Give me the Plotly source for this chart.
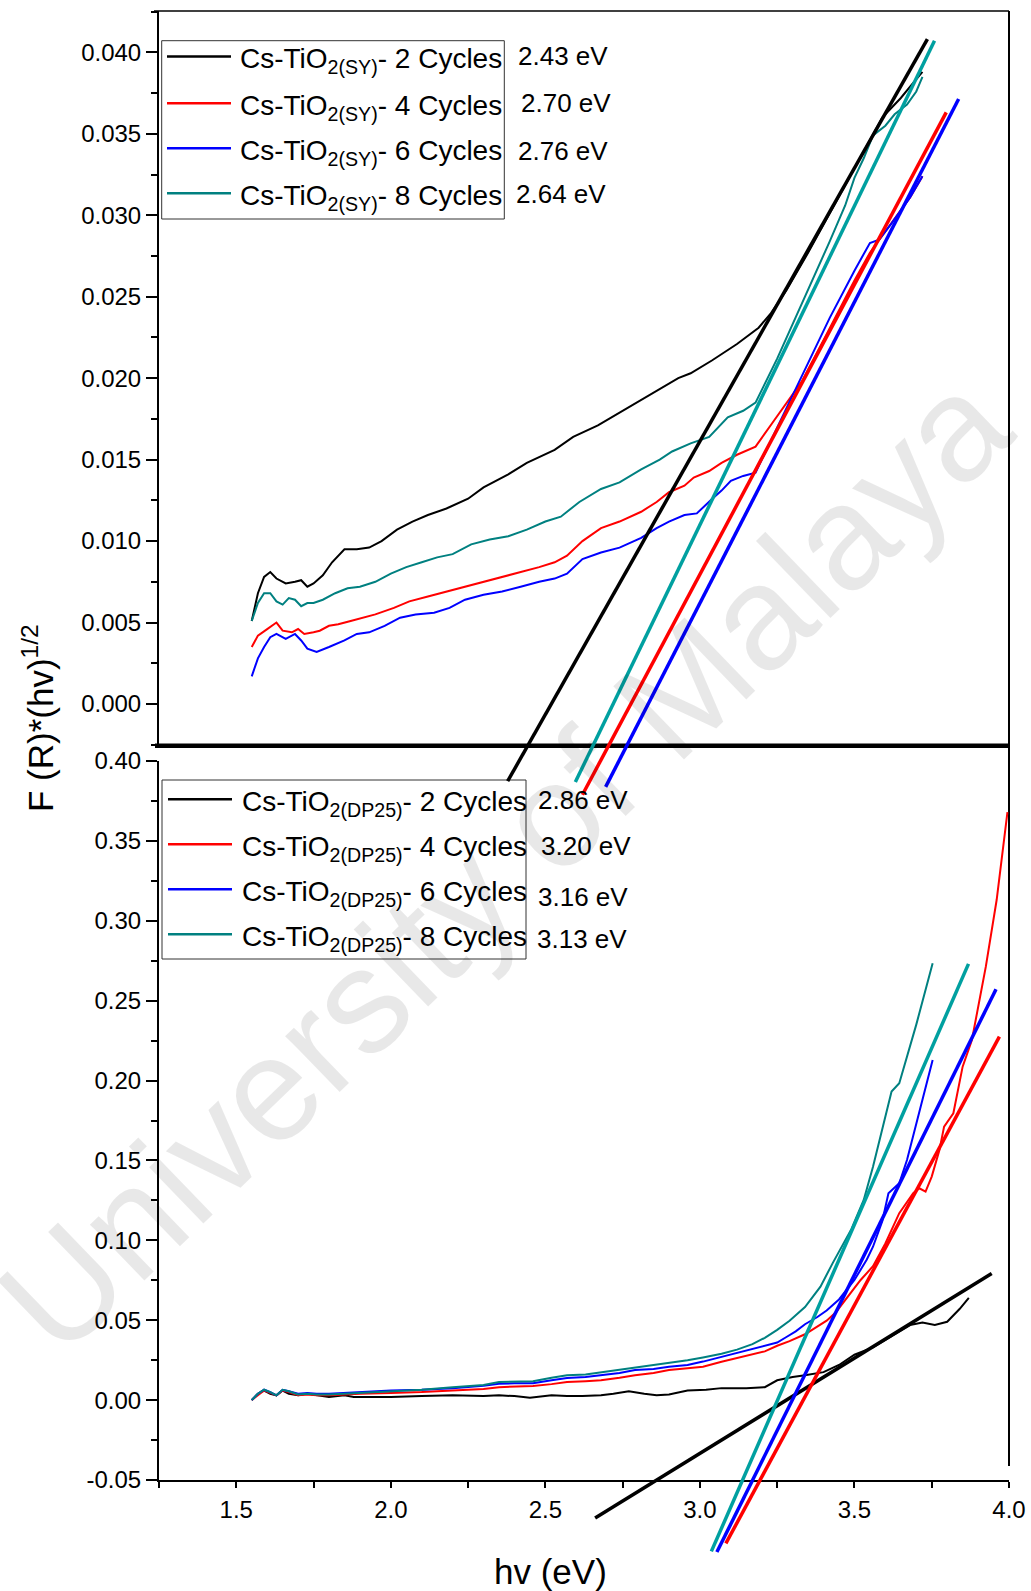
import plotly.graph_objects as go

# ---------------- data ----------------
colors = ["#000000", "#FF0000", "#0000FF", "#008080"]
tangent_colors = ["#000000", "#FF0000", "#0000FF", "#00A0A0"]

names_sy = ["Cs-TiO<sub>2(SY)</sub>- 2 Cycles", "Cs-TiO<sub>2(SY)</sub>- 4 Cycles",
            "Cs-TiO<sub>2(SY)</sub>- 6 Cycles", "Cs-TiO<sub>2(SY)</sub>- 8 Cycles"]
names_dp = ["Cs-TiO<sub>2(DP25)</sub>- 2 Cycles", "Cs-TiO<sub>2(DP25)</sub>- 4 Cycles",
            "Cs-TiO<sub>2(DP25)</sub>- 6 Cycles", "Cs-TiO<sub>2(DP25)</sub>- 8 Cycles"]
gap_sy = ["2.43 eV", "2.70 eV", "2.76 eV", "2.64 eV"]
gap_dp = ["2.86 eV", "3.20 eV", "3.16 eV", "3.13 eV"]

# tick labels
x_ticks = [1.5, 2.0, 2.5, 3.0, 3.5, 4.0]
x_ticktext = ["1.5", "2.0", "2.5", "3.0", "3.5", "4.0"]
top_ticks = [0.000, 0.005, 0.010, 0.015, 0.020, 0.025, 0.030, 0.035, 0.040]
top_ticktext = ["0.000", "0.005", "0.010", "0.015", "0.020", "0.025", "0.030", "0.035", "0.040"]
bot_ticks = [-0.05, 0.00, 0.05, 0.10, 0.15, 0.20, 0.25, 0.30, 0.35, 0.40]
bot_ticktext = ["-0.05", "0.00", "0.05", "0.10", "0.15", "0.20", "0.25", "0.30", "0.35", "0.40"]

# --- top panel: Cs-TiO2(SY) ---
sy2_x = [1.55, 1.57, 1.59, 1.61, 1.63, 1.66, 1.69, 1.71, 1.73, 1.75, 1.78, 1.81, 1.85, 1.89, 1.93, 1.97,
         2.02, 2.07, 2.12, 2.18, 2.25, 2.30, 2.38, 2.44, 2.53, 2.59, 2.67, 2.76, 2.84, 2.93, 2.97, 3.04,
         3.12, 3.19, 3.23, 3.28, 3.35, 3.42, 3.49, 3.55, 3.59, 3.62, 3.65, 3.68, 3.72]
sy2_y = [0.0051, 0.0068, 0.0078, 0.0081, 0.0077, 0.0074, 0.0075, 0.0076, 0.0072, 0.0074, 0.0079, 0.0087,
         0.0095, 0.0095, 0.0096, 0.0100, 0.0107, 0.0112, 0.0116, 0.0120, 0.0126, 0.0133, 0.0141, 0.0148,
         0.0156, 0.0164, 0.0171, 0.0181, 0.0190, 0.0200, 0.0203, 0.0211, 0.0221, 0.0231, 0.0240, 0.0254,
         0.0277, 0.0301, 0.0325, 0.0346, 0.0360, 0.0366, 0.0372, 0.0379, 0.0388]

sy4_x = [1.55, 1.57, 1.60, 1.63, 1.65, 1.68, 1.70, 1.72, 1.75, 1.77, 1.80, 1.83, 1.87, 1.91, 1.95, 2.01,
         2.06, 2.12, 2.18, 2.24, 2.30, 2.36, 2.42, 2.48, 2.53, 2.57, 2.62, 2.68, 2.74, 2.81, 2.86, 2.90,
         2.95, 2.98, 3.03, 3.07, 3.12, 3.18, 3.24, 3.33, 3.41, 3.50, 3.55, 3.62, 3.68, 3.72]
sy4_y = [0.0035, 0.0042, 0.0046, 0.0050, 0.0045, 0.0044, 0.0046, 0.0043, 0.0044, 0.0045, 0.0048, 0.0049,
         0.0051, 0.0053, 0.0055, 0.0059, 0.0063, 0.0066, 0.0069, 0.0072, 0.0075, 0.0078, 0.0081, 0.0084,
         0.0087, 0.0091, 0.0100, 0.0108, 0.0112, 0.0118, 0.0124, 0.0130, 0.0134, 0.0139, 0.0143, 0.0148,
         0.0153, 0.0158, 0.0174, 0.0198, 0.0227, 0.0260, 0.0277, 0.0295, 0.0311, 0.0324]

sy6_x = [1.55, 1.57, 1.59, 1.61, 1.63, 1.66, 1.69, 1.71, 1.73, 1.76, 1.80, 1.85, 1.89, 1.93, 1.98, 2.03,
         2.08, 2.14, 2.19, 2.24, 2.30, 2.36, 2.42, 2.48, 2.53, 2.57, 2.62, 2.68, 2.74, 2.81, 2.86, 2.90,
         2.95, 2.99, 3.04, 3.07, 3.10, 3.14, 3.18, 3.24, 3.33, 3.42, 3.50, 3.55, 3.58, 3.62, 3.68, 3.72]
sy6_y = [0.0017, 0.0028, 0.0035, 0.0041, 0.0043, 0.0040, 0.0043, 0.0039, 0.0034, 0.0032, 0.0035, 0.0039,
         0.0043, 0.0044, 0.0048, 0.0053, 0.0055, 0.0056, 0.0059, 0.0064, 0.0067, 0.0069, 0.0072, 0.0075,
         0.0077, 0.0080, 0.0089, 0.0093, 0.0096, 0.0102, 0.0108, 0.0112, 0.0116, 0.0117, 0.0126, 0.0131,
         0.0137, 0.0140, 0.0142, 0.0166, 0.0201, 0.0237, 0.0266, 0.0283, 0.0285, 0.0295, 0.0311, 0.0324]

sy8_x = [1.55, 1.57, 1.59, 1.61, 1.63, 1.65, 1.67, 1.69, 1.71, 1.73, 1.75, 1.78, 1.82, 1.86, 1.90, 1.95,
         2.00, 2.05, 2.10, 2.15, 2.20, 2.26, 2.32, 2.38, 2.44, 2.50, 2.55, 2.61, 2.68, 2.74, 2.81, 2.87,
         2.91, 2.97, 3.03, 3.09, 3.14, 3.18, 3.25, 3.30, 3.36, 3.42, 3.47, 3.50, 3.53, 3.56, 3.60, 3.63,
         3.67, 3.70, 3.72]
sy8_y = [0.0051, 0.0062, 0.0068, 0.0068, 0.0063, 0.0061, 0.0065, 0.0064, 0.0060, 0.0062, 0.0062, 0.0064,
         0.0068, 0.0071, 0.0072, 0.0075, 0.0080, 0.0084, 0.0087, 0.0090, 0.0092, 0.0098, 0.0101, 0.0103,
         0.0107, 0.0112, 0.0115, 0.0124, 0.0132, 0.0136, 0.0144, 0.0150, 0.0155, 0.0160, 0.0164, 0.0176,
         0.0180, 0.0185, 0.0212, 0.0233, 0.0258, 0.0284, 0.0306, 0.0323, 0.0335, 0.0349, 0.0355, 0.0362,
         0.0368, 0.0376, 0.0385]

# tangent lines (end points) for the SY panel
tan_sy_x = [[2.378, 3.736], [2.620, 3.797], [2.695, 3.837], [2.597, 3.759]]
tan_sy_y = [[-0.00474, 0.04082], [-0.00557, 0.03632], [-0.00509, 0.03714], [-0.00479, 0.04072]]

# --- bottom panel: Cs-TiO2(DP25) ---
dp2_x = [1.55, 1.57, 1.59, 1.61, 1.63, 1.65, 1.67, 1.70, 1.73, 1.76, 1.80, 1.85, 1.88, 1.92, 2.00, 2.10,
         2.20, 2.30, 2.35, 2.40, 2.45, 2.52, 2.57, 2.62, 2.68, 2.72, 2.77, 2.82, 2.86, 2.90, 2.96, 3.02,
         3.07, 3.15, 3.21, 3.25, 3.30, 3.34, 3.40, 3.45, 3.50, 3.56, 3.62, 3.68, 3.72, 3.76, 3.80, 3.84, 3.87]
dp2_y = [0.000, 0.004, 0.006, 0.004, 0.003, 0.006, 0.004, 0.003, 0.004, 0.003, 0.002, 0.003, 0.002, 0.002,
         0.002, 0.0025, 0.003, 0.0025, 0.003, 0.0025, 0.0015, 0.003, 0.0025, 0.0025, 0.003, 0.004, 0.0055,
         0.004, 0.003, 0.0035, 0.006, 0.0065, 0.0075, 0.0075, 0.0081, 0.0124, 0.0145, 0.0156, 0.0175, 0.022,
         0.0284, 0.033, 0.040, 0.047, 0.0485, 0.047, 0.049, 0.057, 0.064]

dp4_x = [1.55, 1.57, 1.59, 1.61, 1.63, 1.65, 1.67, 1.70, 1.73, 1.76, 1.80, 1.85, 1.90, 2.00, 2.10, 2.20,
         2.30, 2.35, 2.40, 2.46, 2.52, 2.57, 2.63, 2.68, 2.74, 2.79, 2.85, 2.90, 2.96, 3.01, 3.07, 3.12,
         3.17, 3.21, 3.25, 3.29, 3.34, 3.38, 3.41, 3.44, 3.48, 3.52, 3.56, 3.60, 3.645, 3.69, 3.71, 3.73,
         3.75, 3.775, 3.79, 3.82, 3.85, 3.88, 3.925, 3.96, 3.995]
dp4_y = [0.000, 0.003, 0.006, 0.0045, 0.003, 0.006, 0.005, 0.003, 0.0035, 0.003, 0.003, 0.0035, 0.004,
         0.0045, 0.005, 0.006, 0.007, 0.0081, 0.0083, 0.0088, 0.010, 0.0113, 0.0118, 0.0124, 0.014, 0.0156,
         0.017, 0.0188, 0.020, 0.0209, 0.024, 0.0263, 0.029, 0.0305, 0.034, 0.0369, 0.0412, 0.046, 0.0497,
         0.055, 0.065, 0.0752, 0.0838, 0.098, 0.117, 0.1295, 0.1326, 0.1305, 0.1399, 0.1566, 0.1712, 0.1795,
         0.2087, 0.2254, 0.2713, 0.313, 0.368]

dp6_x = [1.55, 1.57, 1.59, 1.61, 1.63, 1.65, 1.67, 1.70, 1.73, 1.76, 1.80, 1.85, 1.90, 2.00, 2.10, 2.20,
         2.30, 2.35, 2.40, 2.46, 2.52, 2.57, 2.63, 2.68, 2.74, 2.79, 2.85, 2.90, 2.96, 3.01, 3.07, 3.12,
         3.17, 3.21, 3.25, 3.28, 3.31, 3.34, 3.38, 3.41, 3.45, 3.50, 3.54, 3.56, 3.59, 3.61, 3.645, 3.67,
         3.70, 3.72, 3.753]
dp6_y = [0.000, 0.004, 0.0065, 0.005, 0.003, 0.0065, 0.0055, 0.004, 0.0045, 0.004, 0.004, 0.0045, 0.005,
         0.006, 0.0065, 0.0075, 0.009, 0.0103, 0.0105, 0.0105, 0.0125, 0.0139, 0.0145, 0.0156, 0.017, 0.0188,
         0.0195, 0.0209, 0.022, 0.0241, 0.027, 0.0294, 0.032, 0.0337, 0.036, 0.0395, 0.043, 0.0475, 0.052,
         0.0561, 0.063, 0.0752, 0.088, 0.096, 0.112, 0.1295, 0.1357, 0.1503, 0.172, 0.188, 0.2129]

dp8_x = [1.55, 1.57, 1.59, 1.61, 1.63, 1.65, 1.67, 1.70, 1.73, 1.76, 1.80, 1.85, 1.90, 2.00, 2.10, 2.20,
         2.30, 2.35, 2.40, 2.46, 2.52, 2.57, 2.63, 2.68, 2.74, 2.79, 2.85, 2.90, 2.96, 3.01, 3.07, 3.12,
         3.17, 3.21, 3.25, 3.29, 3.34, 3.39, 3.43, 3.49, 3.53, 3.56, 3.60, 3.62, 3.645, 3.70, 3.753]
dp8_y = [0.000, 0.004, 0.0065, 0.005, 0.003, 0.0065, 0.0055, 0.0035, 0.004, 0.0035, 0.0035, 0.004, 0.0045,
         0.0055, 0.0065, 0.008, 0.0095, 0.0113, 0.0115, 0.0118, 0.014, 0.0156, 0.016, 0.0173, 0.019, 0.0203,
         0.022, 0.0231, 0.025, 0.0267, 0.029, 0.0316, 0.035, 0.039, 0.044, 0.0497, 0.0582, 0.071, 0.0859,
         0.107, 0.1253, 0.1461, 0.1774, 0.1931, 0.1983, 0.235, 0.2734]

tan_dp_x = [[2.661, 3.944], [3.084, 3.969], [3.055, 3.958], [3.037, 3.869]]
tan_dp_y = [[-0.0738, 0.0792], [-0.0897, 0.2275], [-0.0951, 0.2571], [-0.0947, 0.2730]]

# ---------------- layout geometry ----------------
W, H = 1031, 1591
ML, MR, MT, MB = 159, 22, 11, 20
PW = W - ML - MR
PH = H - MT - MB
RIGHT = W - MR


def px_x(px):
    return (px - ML) / PW


def px_y(py):
    return (H - MB - py) / PH


TOP_DOM = [px_y(745.7), 1.0]
BOT_DOM = [px_y(1480), px_y(761)]
TOP_RANGE = [-0.00256, 0.04254]
BOT_RANGE = [-0.05, 0.40]
X_RANGE = [1.25, 4.0]


def extend(rng, dom):
    per = (rng[1] - rng[0]) / (dom[1] - dom[0])
    return [rng[0] - dom[0] * per, rng[1] + (1 - dom[1]) * per]


FONT = "Arial, Liberation Sans, sans-serif"

fig = go.Figure()

sy_x = [sy2_x, sy4_x, sy6_x, sy8_x]
sy_y = [sy2_y, sy4_y, sy6_y, sy8_y]
dp_x = [dp2_x, dp4_x, dp6_x, dp8_x]
dp_y = [dp2_y, dp4_y, dp6_y, dp8_y]

for i in range(4):
    fig.add_trace(go.Scatter(x=sy_x[i], y=sy_y[i], mode="lines", name=names_sy[i],
                             line=dict(color=colors[i], width=2), xaxis="x", yaxis="y",
                             showlegend=False))
for i in range(4):
    fig.add_trace(go.Scatter(x=dp_x[i], y=dp_y[i], mode="lines", name=names_dp[i],
                             line=dict(color=colors[i], width=2), xaxis="x", yaxis="y2",
                             showlegend=False))
for i in range(4):
    fig.add_trace(go.Scatter(x=tan_sy_x[i], y=tan_sy_y[i], mode="lines", name="fit " + gap_sy[i],
                             line=dict(color=tangent_colors[i], width=3.5), xaxis="x", yaxis="y3",
                             showlegend=False))
for i in range(4):
    fig.add_trace(go.Scatter(x=tan_dp_x[i], y=tan_dp_y[i], mode="lines", name="fit " + gap_dp[i],
                             line=dict(color=tangent_colors[i], width=3.5), xaxis="x", yaxis="y4",
                             showlegend=False))

tickfont = dict(family=FONT, size=24, color="black")

fig.update_layout(
    template="none",
    width=W, height=H,
    margin=dict(l=ML, r=MR, t=MT, b=MB, autoexpand=False),
    paper_bgcolor="white", plot_bgcolor="rgba(0,0,0,0)",
    showlegend=False,
    xaxis=dict(domain=[0, 1], range=X_RANGE, anchor="y2", showgrid=False, zeroline=False,
               automargin=False,
               showline=True, linewidth=2, linecolor="black", ticks="outside", ticklen=6,
               tickwidth=1.5, tickcolor="black", tickmode="array", tickvals=x_ticks,
               ticktext=x_ticktext, tickfont=tickfont, ticklabelstandoff=1,
               minor=dict(ticks="outside", ticklen=6, tickwidth=1.5, tickcolor="black", dtick=0.25,
                          tick0=0, showgrid=False)),
    yaxis=dict(domain=TOP_DOM, range=TOP_RANGE, anchor="x", showgrid=False, zeroline=False,
               automargin=False,
               showline=True, linewidth=2, linecolor="black", ticks="outside", ticklen=11,
               tickwidth=1.5, tickcolor="black", tickmode="array", tickvals=top_ticks,
               ticktext=top_ticktext, tickfont=tickfont, ticklabelstandoff=0,
               minor=dict(ticks="outside", ticklen=6, tickwidth=1.5, tickcolor="black", dtick=0.0025,
                          tick0=0, showgrid=False)),
    yaxis2=dict(domain=BOT_DOM, range=BOT_RANGE, anchor="x", showgrid=False, zeroline=False,
                automargin=False,
                showline=True, linewidth=2, linecolor="black", ticks="outside", ticklen=11,
                tickwidth=1.5, tickcolor="black", tickmode="array", tickvals=bot_ticks,
                ticktext=bot_ticktext, tickfont=tickfont, ticklabelstandoff=0,
                minor=dict(ticks="outside", ticklen=6, tickwidth=1.5, tickcolor="black", dtick=0.025,
                           tick0=0, showgrid=False)),
    yaxis3=dict(domain=[0, 1], range=extend(TOP_RANGE, TOP_DOM), anchor="x", visible=False,
                showgrid=False, zeroline=False, automargin=False),
    yaxis4=dict(domain=[0, 1], range=extend(BOT_RANGE, BOT_DOM), anchor="x", visible=False,
                showgrid=False, zeroline=False, automargin=False),
)

shapes = []
# frame pieces
shapes.append(dict(type="line", xref="paper", yref="paper", x0=px_x(154), x1=1,
                   y0=px_y(11), y1=px_y(11), line=dict(color="black", width=1.5), layer="below"))
shapes.append(dict(type="line", xref="paper", yref="paper", x0=px_x(155), x1=1,
                   y0=px_y(745.7), y1=px_y(745.7), line=dict(color="black", width=4.5), layer="below"))
shapes.append(dict(type="line", xref="paper", yref="paper", x0=1, x1=1,
                   y0=px_y(11), y1=px_y(1466), line=dict(color="black", width=2), layer="below"))

annotations = []


# legends (custom, to match the reference's long line samples)
def add_legend(names, box, text_x, line_x0, line_x1, rows_y):
    shapes.append(dict(type="rect", xref="paper", yref="paper", x0=px_x(box[0]), x1=px_x(box[2]),
                       y0=px_y(box[1]), y1=px_y(box[3]), line=dict(color="#333333", width=1),
                       fillcolor="rgba(0,0,0,0)", layer="below"))
    for i, nm in enumerate(names):
        shapes.append(dict(type="line", xref="paper", yref="paper", x0=px_x(line_x0), x1=px_x(line_x1),
                           y0=px_y(rows_y[i]), y1=px_y(rows_y[i]),
                           line=dict(color=colors[i], width=2.5)))
        annotations.append(dict(text=nm, xref="paper", yref="paper", x=px_x(text_x),
                                y=px_y(rows_y[i] + 3.7), xanchor="left", yanchor="middle",
                                showarrow=False, font=dict(family=FONT, size=28, color="black")))


add_legend(names_sy, (161.7, 40.7, 504.3, 219), 238, 167, 231, [56.5, 103.3, 148.3, 193.3])
add_legend(names_dp, (162, 780, 526, 959), 240, 168, 232, [799.3, 844.3, 889.3, 934.3])

gap_sy_pos = [(516, 56), (519, 102.5), (516, 151), (514, 194)]
gap_dp_pos = [(535.8, 800), (538.8, 846), (535.8, 897), (534.8, 939)]
for txt, (gx, gy) in list(zip(gap_sy, gap_sy_pos)) + list(zip(gap_dp, gap_dp_pos)):
    annotations.append(dict(text=txt, xref="paper", yref="paper", x=px_x(gx), y=px_y(gy),
                            xanchor="left", yanchor="middle", showarrow=False,
                            font=dict(family=FONT, size=26, color="black")))

# axis titles
annotations.append(dict(text="F (R)*(hv)<sup>1/2</sup>", xref="paper", yref="paper", x=px_x(38),
                        y=px_y(718), xanchor="center", yanchor="middle", textangle=-90,
                        showarrow=False, font=dict(family=FONT, size=35, color="black")))
annotations.append(dict(text="hv (eV)", xref="paper", yref="paper", x=px_x(550), y=px_y(1571),
                        xanchor="center", yanchor="middle", showarrow=False,
                        font=dict(family=FONT, size=35, color="black")))

# watermark
annotations.append(dict(text="University of Malaya", xref="paper", yref="paper", x=px_x(503),
                        y=px_y(862), xanchor="center", yanchor="middle", textangle=-44,
                        showarrow=False, font=dict(family=FONT, size=148, color="rgba(0,0,0,0.09)")))

fig.update_layout(shapes=shapes, annotations=annotations)

fig.write_html("out.html")
